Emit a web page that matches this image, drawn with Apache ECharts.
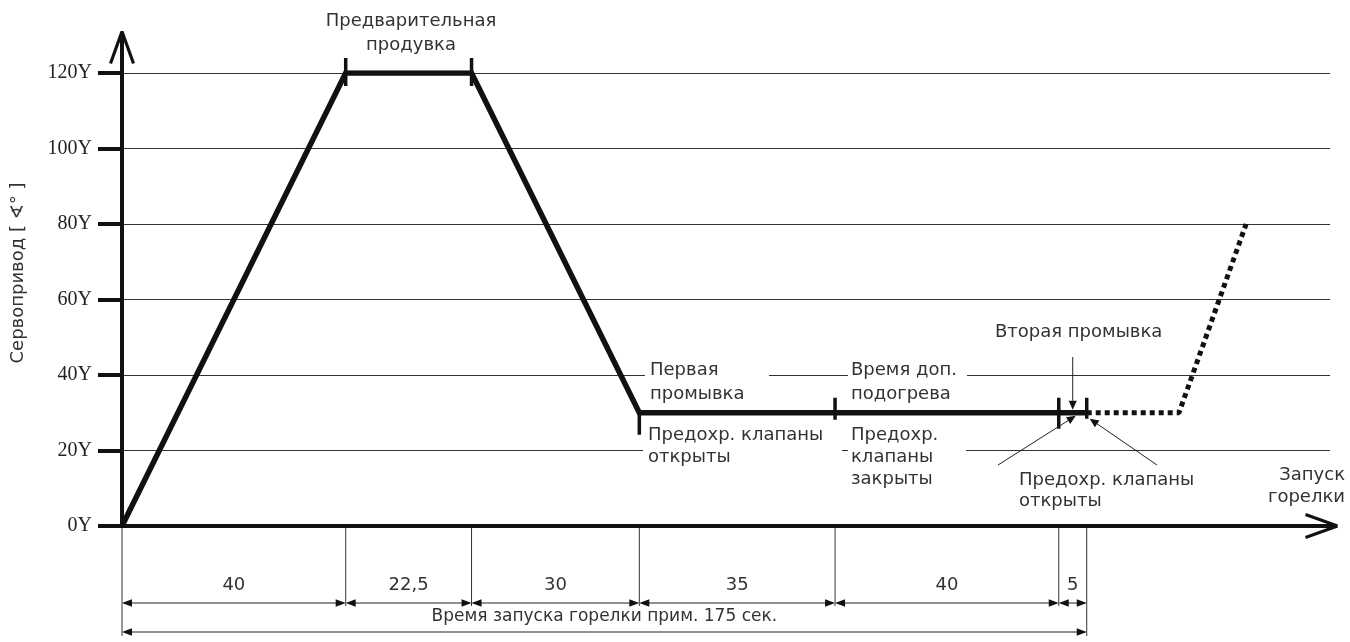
<!DOCTYPE html>
<html><head><meta charset="utf-8">
<script src="https://cdn.jsdelivr.net/npm/echarts@6/dist/echarts.min.js"></script>
<style>html,body{margin:0;padding:0;background:#fff}#c{width:1350px;height:642px}</style>
</head><body><div id="c"></div>
<script>
// ---------- DATA ----------
const phaseDurations = [40, 22.5, 30, 35, 40, 5];
const phaseLabels = ['40', '22,5', '30', '35', '40', '5'];
const totalLabel = 'Время запуска горелки прим. 175 сек.';
const profileTime = [0, 40, 62.5, 92.5, 127.5, 167.5, 172.5];
const profileAngle = [0, 120, 120, 30, 30, 30, 30];
const ignitionTime = [172.5, 189, 201];
const ignitionAngle = [30, 30, 80];
const yTickValues = [0, 20, 40, 60, 80, 100, 120];
const yTickLabels = ['0Y', '20Y', '40Y', '60Y', '80Y', '100Y', '120Y'];
const yAxisTitle = 'Сервопривод [ ∢° ]';
const xMax = 216;

// ---------- derived ----------
const boundaries = [0];
phaseDurations.forEach(d => boundaries.push(boundaries[boundaries.length - 1] + d));

// ---------- styles ----------
const INK = '#111';
const TXT = '#333';
const FONT = '18px "DejaVu Sans"';
const ARROW_PATH = 'path://M11.5,0 L14.5,1 L3,33 L0,32 Z M14.5,0 L26,32 L23,33 L11.5,1 Z M11,2 L15,2 L15,42 L11,42 Z';
const MARK_EXTENT = [[15, 13], [15, 13], [0, 22], [15, 7], [15, 16], [15, 6]]; // px above / below
const DIM = { ext: 80, extEdge: 110, row: 77, labelRow: 59, totalRow: 106, totalLabelRow: 91 };

function seg(x1, y1, x2, y2, w, c) {
  return { type: 'line', shape: { x1, y1, x2, y2 }, style: { stroke: c || '#333', lineWidth: w || 1 } };
}
function head(x, y, dir) { // dir -1: points left, +1: points right
  return { type: 'polygon', shape: { points: [[x, y], [x - dir * 10, y - 3.8], [x - dir * 10, y + 3.8]] }, style: { fill: INK } };
}

function renderDimension(params, api) {
  const i = params.dataIndex;
  const base = api.coord([boundaries[i], 0]);
  const x = base[0], y0 = base[1];
  const last = boundaries.length - 1;
  const ch = [];
  ch.push(seg(x, y0 + 2, x, y0 + ((i === 0 || i === last) ? DIM.extEdge : DIM.ext), 1, '#333'));
  if (i < last) {
    const xn = api.coord([boundaries[i + 1], 0])[0];
    const yd = y0 + DIM.row;
    ch.push(seg(x + 2, yd, xn - 2, yd, 1, '#222'));
    ch.push(head(x, yd, -1));
    ch.push(head(xn, yd, 1));
    ch.push({ type: 'text', x: (x + xn) / 2, y: y0 + DIM.labelRow,
      style: { text: phaseLabels[i], font: FONT, fill: TXT, textAlign: 'center', textVerticalAlign: 'middle' } });
  }
  if (i === 0) {
    const xe = api.coord([boundaries[last], 0])[0];
    const yt = y0 + DIM.totalRow;
    ch.push(seg(x + 2, yt, xe - 2, yt, 1, '#222'));
    ch.push(head(x, yt, -1));
    ch.push(head(xe, yt, 1));
    ch.push({ type: 'text', x: (x + xe) / 2, y: y0 + DIM.totalLabelRow,
      style: { text: totalLabel, font: '17px "DejaVu Sans"', fill: TXT, textAlign: 'center', textVerticalAlign: 'middle' } });
  }
  return { type: 'group', children: ch };
}

function renderMarks(params, api) {
  const p = api.coord([api.value(0), api.value(1)]);
  const e = MARK_EXTENT[params.dataIndex];
  return { type: 'rect', shape: { x: p[0] - 1.75, y: p[1] - e[0], width: 3.5, height: e[0] + e[1] }, style: { fill: INK } };
}

const option = {
  animation: false,
  backgroundColor: '#fff',
  grid: { left: 122, right: 20, top: 73, bottom: 116, containLabel: false, outerBoundsMode: 'none' },
  xAxis: {
    type: 'value', min: 0, max: xMax,
    axisLine: { show: true, onZero: true, lineStyle: { color: INK, width: 4 },
      symbol: ['none', ARROW_PATH], symbolSize: [26, 42], symbolOffset: [0, -13] },
    axisTick: { show: false }, axisLabel: { show: false }, splitLine: { show: false }
  },
  yAxis: {
    type: 'value', min: 0, max: 120, interval: 20,
    axisLine: { show: true, lineStyle: { color: INK, width: 4 },
      symbol: ['none', ARROW_PATH], symbolSize: [26, 42], symbolOffset: [0, 21] },
    axisTick: { show: true, length: 24, lineStyle: { color: INK, width: 4 } },
    axisLabel: { margin: 30, fontFamily: '"Liberation Serif"', fontSize: 20, color: '#222',
      formatter: v => { const k = yTickValues.indexOf(v); return k >= 0 ? yTickLabels[k] : ''; } },
    splitLine: { show: true, lineStyle: { color: '#333', width: 1 } }
  },
  series: [
    { name: 'profile', type: 'line', symbol: 'none', z: 5,
      data: profileTime.map((t, i) => [t, profileAngle[i]]),
      lineStyle: { color: INK, width: 5.5, join: 'miter' } },
    { name: 'ignition', type: 'line', symbol: 'none', z: 5,
      data: ignitionTime.map((t, i) => [t, ignitionAngle[i]]),
      lineStyle: { color: INK, width: 5, type: [5, 4], cap: 'butt' } },
    { name: 'marks', type: 'custom', z: 6, silent: true, clip: false,
      data: profileTime.slice(1).map((t, i) => [t, profileAngle[i + 1]]),
      renderItem: renderMarks },
    { name: 'dimensions', type: 'custom', z: 6, silent: true, clip: false,
      data: boundaries.map(b => [b, 0]),
      renderItem: renderDimension }
  ]
};

const chart = echarts.init(document.getElementById('c'), null, { renderer: 'canvas' });
chart.setOption(option);

// ---------- annotations ----------
const endPt = chart.convertToPixel({ gridIndex: 0 }, [profileTime[6], profileAngle[6]]);
function txt(text, x, y, align, lh) {
  return { type: 'text', z: 101, x, y, silent: true,
    style: { text, font: FONT, fill: TXT, textAlign: align || 'left', textVerticalAlign: 'top', lineHeight: lh || 22 } };
}
function box(x1, y1, x2, y2) {
  return { type: 'rect', z: 100, silent: true, shape: { x: x1, y: y1, width: x2 - x1, height: y2 - y1 }, style: { fill: '#fff' } };
}
function arrow(x1, y1, x2, y2) {
  const dx = x2 - x1, dy = y2 - y1, L = Math.hypot(dx, dy), ux = dx / L, uy = dy / L;
  const bx = x2 - ux * 9, by = y2 - uy * 9;
  return [
    { type: 'line', z: 102, silent: true, shape: { x1, y1, x2: bx, y2: by }, style: { stroke: '#222', lineWidth: 1 } },
    { type: 'polygon', z: 102, silent: true, shape: { points: [[x2, y2], [bx - uy * 4, by + ux * 4], [bx + uy * 4, by - ux * 4]] }, style: { fill: INK } }
  ];
}
const ex = endPt[0], ey = endPt[1];
const graphics = [
  box(645, 358, 769, 404), box(848, 358, 967, 404),
  box(643, 423, 842, 468), box(848, 423, 966, 490),
  txt('Предварительная\nпродувка', 411, 9, 'center', 24),
  txt('Первая\nпромывка', 650, 358, 'left', 24),
  txt('Время доп.\nподогрева', 851, 358, 'left', 24),
  txt('Предохр. клапаны\nоткрыты', 648, 424, 'left', 22),
  txt('Предохр.\nклапаны\nзакрыты', 851, 424, 'left', 22),
  txt('Вторая промывка', 995, 321, 'left', 22),
  txt('Предохр. клапаны\nоткрыты', 1019, 470, 'left', 21),
  txt('Запуск\nгорелки', 1345, 464, 'right', 22),
  { type: 'text', z: 101, x: 18, y: 273, rotation: Math.PI / 2, silent: true,
    style: { text: yAxisTitle, font: '18px "DejaVu Sans"', fill: TXT, textAlign: 'center', textVerticalAlign: 'middle' } }
]
  .concat(arrow(ex - 14, 357, ex - 14, ey - 3))
  .concat(arrow(998, 465, ex - 11, ey + 3))
  .concat(arrow(1157, 465, ex + 3, ey + 6));
chart.setOption({ graphic: { elements: graphics } });
</script></body></html>
